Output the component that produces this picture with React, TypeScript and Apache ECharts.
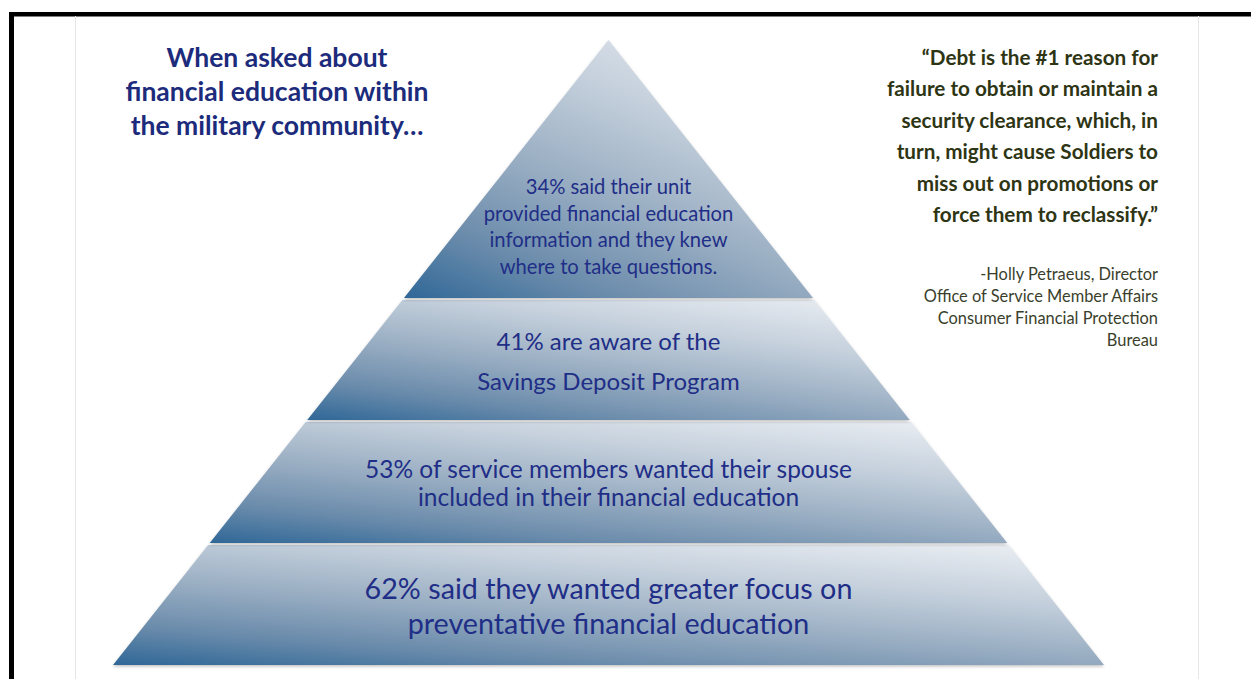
import React, { useEffect, useRef } from "react";
import * as echarts from "echarts";

// ---- data ----
const tierPercents = [62, 53, 41, 34];
const tierTexts = [
  "% said they wanted greater focus on\npreventative financial education",
  "% of service members wanted their spouse\nincluded in their financial education",
  "% are aware of the\nSavings Deposit Program",
  "% said their unit\nprovided financial education\ninformation and they knew\nwhere to take questions.",
];
// share of pyramid height (bottom -> top) at each tier boundary
const tierBounds = [0, 19.36, 39.04, 58.56, 100];

const titleLines = ["When asked about", "financial education within", "the military community…"];
const quoteLines = [
  "“Debt is the #1 reason for",
  "failure to obtain or maintain a",
  "security clearance, which, in",
  "turn, might cause Soldiers to",
  "miss out on promotions or",
  "force them to reclassify.”",
];
const attributionLines = [
  "-Holly Petraeus, Director",
  "Office of Service Member Affairs",
  "Consumer Financial Protection",
  "Bureau",
];

const FONT = "Lato, 'Open Sans', sans-serif";
const TIER_TEXT_STYLE = [
  { fontSize: 28.7, lineHeight: 35 },
  { fontSize: 24.5, lineHeight: 28 },
  { fontSize: 24, lineHeight: 40 },
  { fontSize: 20.2, lineHeight: 26.5 },
];
const STOPS = [
  { offset: 0, color: "#eef1f5" },
  { offset: 0.3, color: "#c6d1dd" },
  { offset: 0.55, color: "#9cb0c4" },
  { offset: 0.8, color: "#6a8bab" },
  { offset: 1, color: "#2f6797" },
];

export default function App() {
  const ref = useRef<HTMLDivElement>(null);
  useEffect(() => {
    document.body.style.margin = "0";
    const chart = echarts.init(ref.current!, undefined, { renderer: "svg" });
    const data = tierPercents.map((p, i) => [i, tierBounds[i], tierBounds[i + 1], p]);

    const renderItem = (params: any, api: any) => {
      const idx = api.value(0);
      const lo = api.value(1);
      const hi = api.value(2);
      const pct = api.value(3);
      const hw = (l: number) => 1 - l / 100;
      const bl = api.coord([-hw(lo), lo]);
      const br = api.coord([hw(lo), lo]);
      const tl = api.coord([-hw(hi), hi]);
      const tr = api.coord([hw(hi), hi]);
      const yTop = tl[1] + (hi < 100 ? 1 : 0);
      const yBot = bl[1] - (lo > 0 ? 1 : 0);
      const lerpX = (a: number[], b: number[], y: number) =>
        a[0] + ((b[0] - a[0]) * (a[1] - y)) / (a[1] - b[1]);
      const xlT = lerpX(bl, tl, yTop);
      const xrT = lerpX(br, tr, yTop);
      const xlB = lerpX(bl, tl, yBot);
      const xrB = lerpX(br, tr, yBot);
      const W = xrB - xlB;
      const H = yBot - yTop;
      const cx = (xlB + xrB) / 2;
      const alpha = 0.4;
      const beta = 0.6;
      const gx = -alpha / W;
      const gy = beta / H;
      const g2 = gx * gx + gy * gy;
      const p0 = [cx + W / 2, yTop];
      const p1 = [p0[0] + gx / g2, p0[1] + gy / g2];
      const isTop = hi >= 100;
      const ty = isTop ? yBot - 0.28 * H : (yTop + yBot) / 2;
      const ts = TIER_TEXT_STYLE[idx];
      return {
        type: "group",
        children: [
          {
            type: "polygon",
            shape: { points: [[xlB, yBot], [xrB, yBot], [xrT, yTop], [xlT, yTop]] },
            style: {
              fill: {
                type: "linear",
                x: p0[0],
                y: p0[1],
                x2: p1[0],
                y2: p1[1],
                global: true,
                colorStops: STOPS,
              },
              shadowBlur: 3,
              shadowOffsetY: 1.5,
              shadowColor: "rgba(0,0,0,0.25)",
            },
          },
          {
            type: "text",
            style: {
              text: pct + tierTexts[idx],
              x: cx,
              y: ty,
              align: "center",
              verticalAlign: "middle",
              fontFamily: FONT,
              fontSize: ts.fontSize,
              lineHeight: ts.lineHeight,
              fill: "#1f2e87",
            },
          },
        ],
      };
    };

    chart.setOption({
      animation: false,
      backgroundColor: "#ffffff",
      grid: { left: 113, right: 147, top: 40, bottom: 14 },
      xAxis: { type: "value", min: -1, max: 1, show: false },
      yAxis: { type: "value", min: 0, max: 100, show: false },
      series: [
        {
          type: "custom",
          renderItem,
          data,
          encode: { x: 0, y: 1 },
          silent: true,
        },
      ],
      graphic: [
        { type: "rect", shape: { x: 9, y: 12, width: 1242, height: 4.5 }, style: { fill: "#000" } },
        { type: "rect", shape: { x: 9, y: 12, width: 5, height: 667 }, style: { fill: "#000" } },
        { type: "line", shape: { x1: 75.5, y1: 16, x2: 75.5, y2: 679 }, style: { stroke: "#e6e6e6", lineWidth: 1 } },
        { type: "line", shape: { x1: 1198.5, y1: 16, x2: 1198.5, y2: 679 }, style: { stroke: "#e6e6e6", lineWidth: 1 } },
        {
          type: "text",
          x: 277,
          y: 91,
          style: {
            text: titleLines.join("\n"),
            align: "center",
            verticalAlign: "middle",
            fontFamily: FONT,
            fontWeight: "bold",
            fontSize: 26.5,
            lineHeight: 34,
            fill: "#1c2b7b",
          },
        },
        {
          type: "text",
          x: 1158,
          y: 135.5,
          style: {
            text: quoteLines.join("\n"),
            align: "right",
            verticalAlign: "middle",
            fontFamily: FONT,
            fontWeight: "bold",
            fontSize: 20.7,
            lineHeight: 31.4,
            fill: "#2e3514",
          },
        },
        {
          type: "text",
          x: 1158,
          y: 306.5,
          style: {
            text: attributionLines.join("\n"),
            align: "right",
            verticalAlign: "middle",
            fontFamily: FONT,
            fontSize: 16.4,
            lineHeight: 21.7,
            fill: "#3a3f2c",
          },
        },
      ],
    });
    return () => chart.dispose();
  }, []);
  return <div ref={ref} style={{ width: 1251, height: 679 }} />;
}
